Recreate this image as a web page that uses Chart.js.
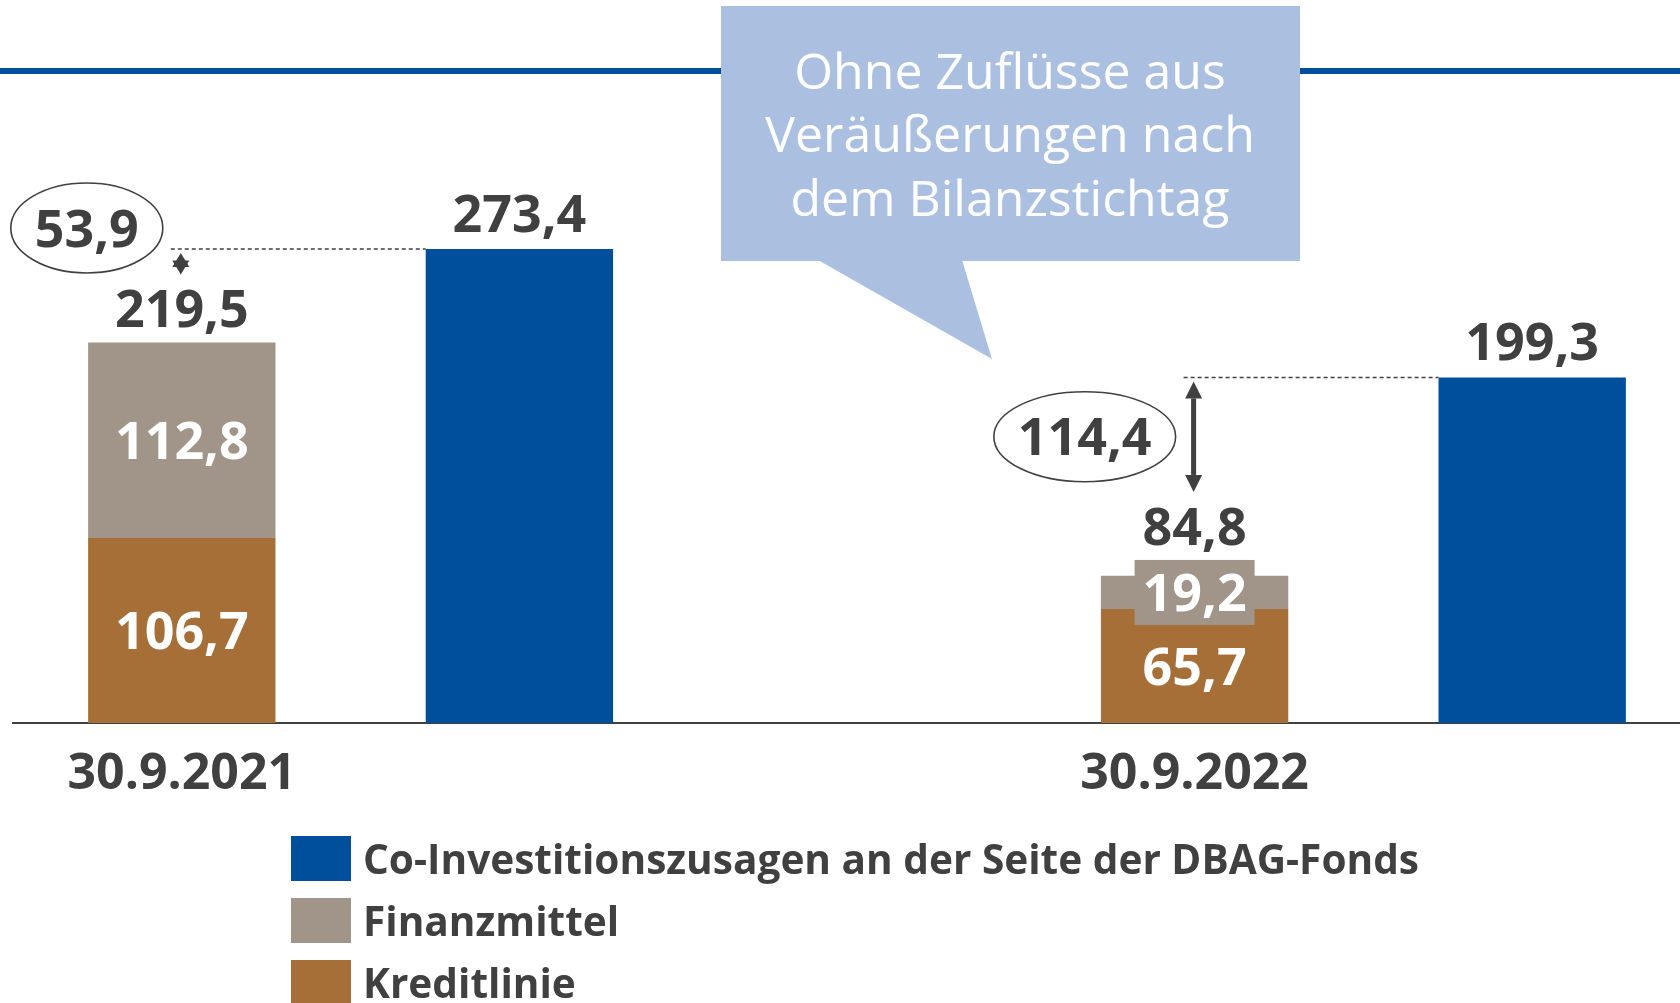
<!DOCTYPE html>
<html>
<head>
<meta charset="utf-8">
<script src="https://cdn.jsdelivr.net/npm/chart.js@4.4.0/dist/chart.umd.min.js"></script>
<style>
  html, body { margin: 0; padding: 0; background: #fff; overflow: hidden; }
  #wrap { position: relative; width: 1680px; height: 1003px; overflow: hidden; }
  #chart { position: absolute; left: 0; top: 0; }
  #legend { position: absolute; left: 291px; top: 836px; font-family: 'Open Sans', sans-serif; font-weight: 700; color: #404040; }
  #legend .item { display: flex; align-items: center; height: 62px; }
  #legend .box { width: 60px; height: 45px; margin-right: 12px; flex: none; align-self: flex-start; }
  #legend .txt { font-size: 40.6px; line-height: 45px; align-self: flex-start; }
</style>
</head>
<body>
<div id="wrap">
  <canvas id="chart" width="1701" height="1003"></canvas>
  <div id="legend"></div>
</div>
<script>
/* ---------- data ---------- */

const dates = ['30.9.2021', '30.9.2022'];
const kreditlinie = [106.7, 65.7];
const finanzmittel = [112.8, 19.2];
const coInvest = [273.4, 199.3];
const totals = [219.5, 84.8];
const gaps = [53.9, 114.4];
const calloutLines = ['Ohne Zuflüsse aus', 'Veräußerungen nach', 'dem Bilanzstichtag'];

const seriesNames = {
  co: 'Co-Investitionszusagen an der Seite der DBAG-Fonds',
  fin: 'Finanzmittel',
  kred: 'Kreditlinie'
};
const colors = { co: '#004f9c', fin: '#a09588', kred: '#a66f38', callout: '#abc0e1' };
const TEXT = '#404040';
const FONT = "'Open Sans', sans-serif";

/* ---------- slots: stack, co-invest bar, spacer, stack, co-invest bar ---------- */

const labels = [], kredData = [], finData = [], coData = [];
const stackSlot = [], coSlot = [];
dates.forEach((d, i) => {
  if (i > 0) { labels.push(''); kredData.push(null); finData.push(null); coData.push(null); }
  stackSlot.push(labels.length);
  labels.push(d); kredData.push(kreditlinie[i]); finData.push(finanzmittel[i]); coData.push(null);
  coSlot.push(labels.length);
  labels.push(''); kredData.push(null); finData.push(null); coData.push(coInvest[i]);
});

function fmt(v) { return v.toFixed(1).replace('.', ','); }

// draws text so the digits are centred vertically on cy
function numText(ctx, str, cx, cy, color, size, weight) {
  ctx.font = (weight || 700) + ' ' + size + 'px ' + FONT;
  ctx.fillStyle = color;
  ctx.textAlign = 'center';
  ctx.textBaseline = 'alphabetic';
  ctx.fillText(str, cx, cy + size * 0.357);
}

function arrow(ctx, x, y1, y2) {
  const len = y2 - y1;
  const head = Math.min(17, len * 0.65);
  ctx.fillStyle = TEXT;
  ctx.strokeStyle = TEXT;
  if (len - 2 * head > 0) {
    ctx.lineWidth = 5;
    ctx.beginPath(); ctx.moveTo(x, y1 + head); ctx.lineTo(x, y2 - head); ctx.stroke();
  }
  ctx.beginPath(); ctx.moveTo(x, y1); ctx.lineTo(x - 8.5, y1 + head); ctx.lineTo(x + 8.5, y1 + head); ctx.closePath(); ctx.fill();
  ctx.beginPath(); ctx.moveTo(x, y2); ctx.lineTo(x - 8.5, y2 - head); ctx.lineTo(x + 8.5, y2 - head); ctx.closePath(); ctx.fill();
}

/* ---------- annotations plugin ---------- */

const annotate = {
  id: 'annotate',
  beforeDatasetsDraw(chart) {
    const ctx = chart.ctx;
    ctx.save();
    // blue rule across the top
    ctx.strokeStyle = colors.co;
    ctx.lineWidth = 6;
    ctx.beginPath(); ctx.moveTo(0, 71); ctx.lineTo(chart.width, 71); ctx.stroke();
    // speech bubble
    ctx.fillStyle = colors.callout;
    ctx.fillRect(721, 6, 579, 255);
    ctx.beginPath(); ctx.moveTo(818, 260); ctx.lineTo(962, 260); ctx.lineTo(992, 359); ctx.closePath(); ctx.fill();
    calloutLines.forEach((line, i) => numText(ctx, line, 1010, 71 + i * 63.5, '#fff', 50, 400));
    ctx.restore();
  },
  afterDatasetsDraw(chart) {
    const ctx = chart.ctx;
    const kMeta = chart.getDatasetMeta(0), fMeta = chart.getDatasetMeta(1), cMeta = chart.getDatasetMeta(2);
    const SIZE = 52;
    ctx.save();

    dates.forEach((d, i) => {
      const kEl = kMeta.data[stackSlot[i]];
      const fEl = fMeta.data[stackSlot[i]];
      const cEl = cMeta.data[coSlot[i]];
      let topY = fEl.y;

      // inside labels
      [[kEl, kreditlinie[i], colors.kred], [fEl, finanzmittel[i], colors.fin]].forEach(([el, v, col]) => {
        const cy = (el.y + el.base) / 2;
        const str = fmt(v);
        if (Math.abs(el.base - el.y) < 60) {
          ctx.font = '700 ' + SIZE + 'px ' + FONT;
          const w = ctx.measureText(str).width + 16;
          ctx.fillStyle = col;
          ctx.fillRect(el.x - w / 2, cy - 32.5, w, 65);
          topY = Math.min(topY, cy - 32.5);
        }
        numText(ctx, str, el.x, cy, '#fff', SIZE);
      });

      // totals above
      const totalY = topY - 34;
      numText(ctx, fmt(totals[i]), kEl.x, totalY, TEXT, SIZE);
      numText(ctx, fmt(coInvest[i]), cEl.x, cEl.y - 36, TEXT, SIZE);

      // dashed connector
      const lineY = cEl.y;
      const ax = kEl.x - 1;
      ctx.strokeStyle = TEXT;
      ctx.lineWidth = 1.5;
      ctx.setLineDash([4, 3]);
      ctx.beginPath(); ctx.moveTo(ax - 10, lineY); ctx.lineTo(cEl.x - cEl.width / 2, lineY); ctx.stroke();
      ctx.setLineDash([]);

      // double arrow
      const y1 = lineY + 4, y2 = totalY - 34;
      arrow(ctx, ax, y1, y2);

      // gap bubble
      const str = fmt(gaps[i]);
      ctx.font = '700 ' + SIZE + 'px ' + FONT;
      const rx = ctx.measureText(str).width / 2 + 24;
      const cx = ax - 18 - rx;
      const cy = (y2 - y1) < 60 ? lineY - 21 : (y1 + y2) / 2;
      ctx.strokeStyle = TEXT;
      ctx.lineWidth = 1.6;
      ctx.beginPath(); ctx.ellipse(cx, cy, rx, 45, 0, 0, Math.PI * 2); ctx.stroke();
      numText(ctx, str, cx, cy, TEXT, SIZE);
    });
    ctx.restore();
  }
};

/* ---------- chart ---------- */

new Chart(document.getElementById('chart'), {
  type: 'bar',
  data: {
    labels,
    datasets: [
      { label: seriesNames.kred, data: kredData, backgroundColor: colors.kred },
      { label: seriesNames.fin, data: finData, backgroundColor: colors.fin },
      { label: seriesNames.co, data: coData, backgroundColor: colors.co }
    ]
  },
  options: {
    responsive: false,
    animation: false,
    devicePixelRatio: 1,
    categoryPercentage: 1,
    barPercentage: 0.555,
    layout: { padding: { left: 13, right: 0, top: 0, bottom: 176 } },
    plugins: { legend: { display: false }, tooltip: { enabled: false } },
    scales: {
      x: {
        stacked: true,
        grid: { display: false, drawTicks: false },
        border: { display: true, color: TEXT, width: 2 },
        ticks: { autoSkip: false, maxRotation: 0, padding: 22, color: TEXT, font: { family: FONT, weight: 'bold', size: 50 } }
      },
      y: { stacked: true, display: false, min: 0, max: 417 }
    }
  },
  plugins: [annotate]
});

/* ---------- legend ---------- */

document.getElementById('legend').innerHTML = ['co', 'fin', 'kred'].map(k =>
  '<div class="item"><span class="box" style="background:' + colors[k] + '"></span>' +
  '<span class="txt">' + seriesNames[k] + '</span></div>').join('');
</script>
</body>
</html>
